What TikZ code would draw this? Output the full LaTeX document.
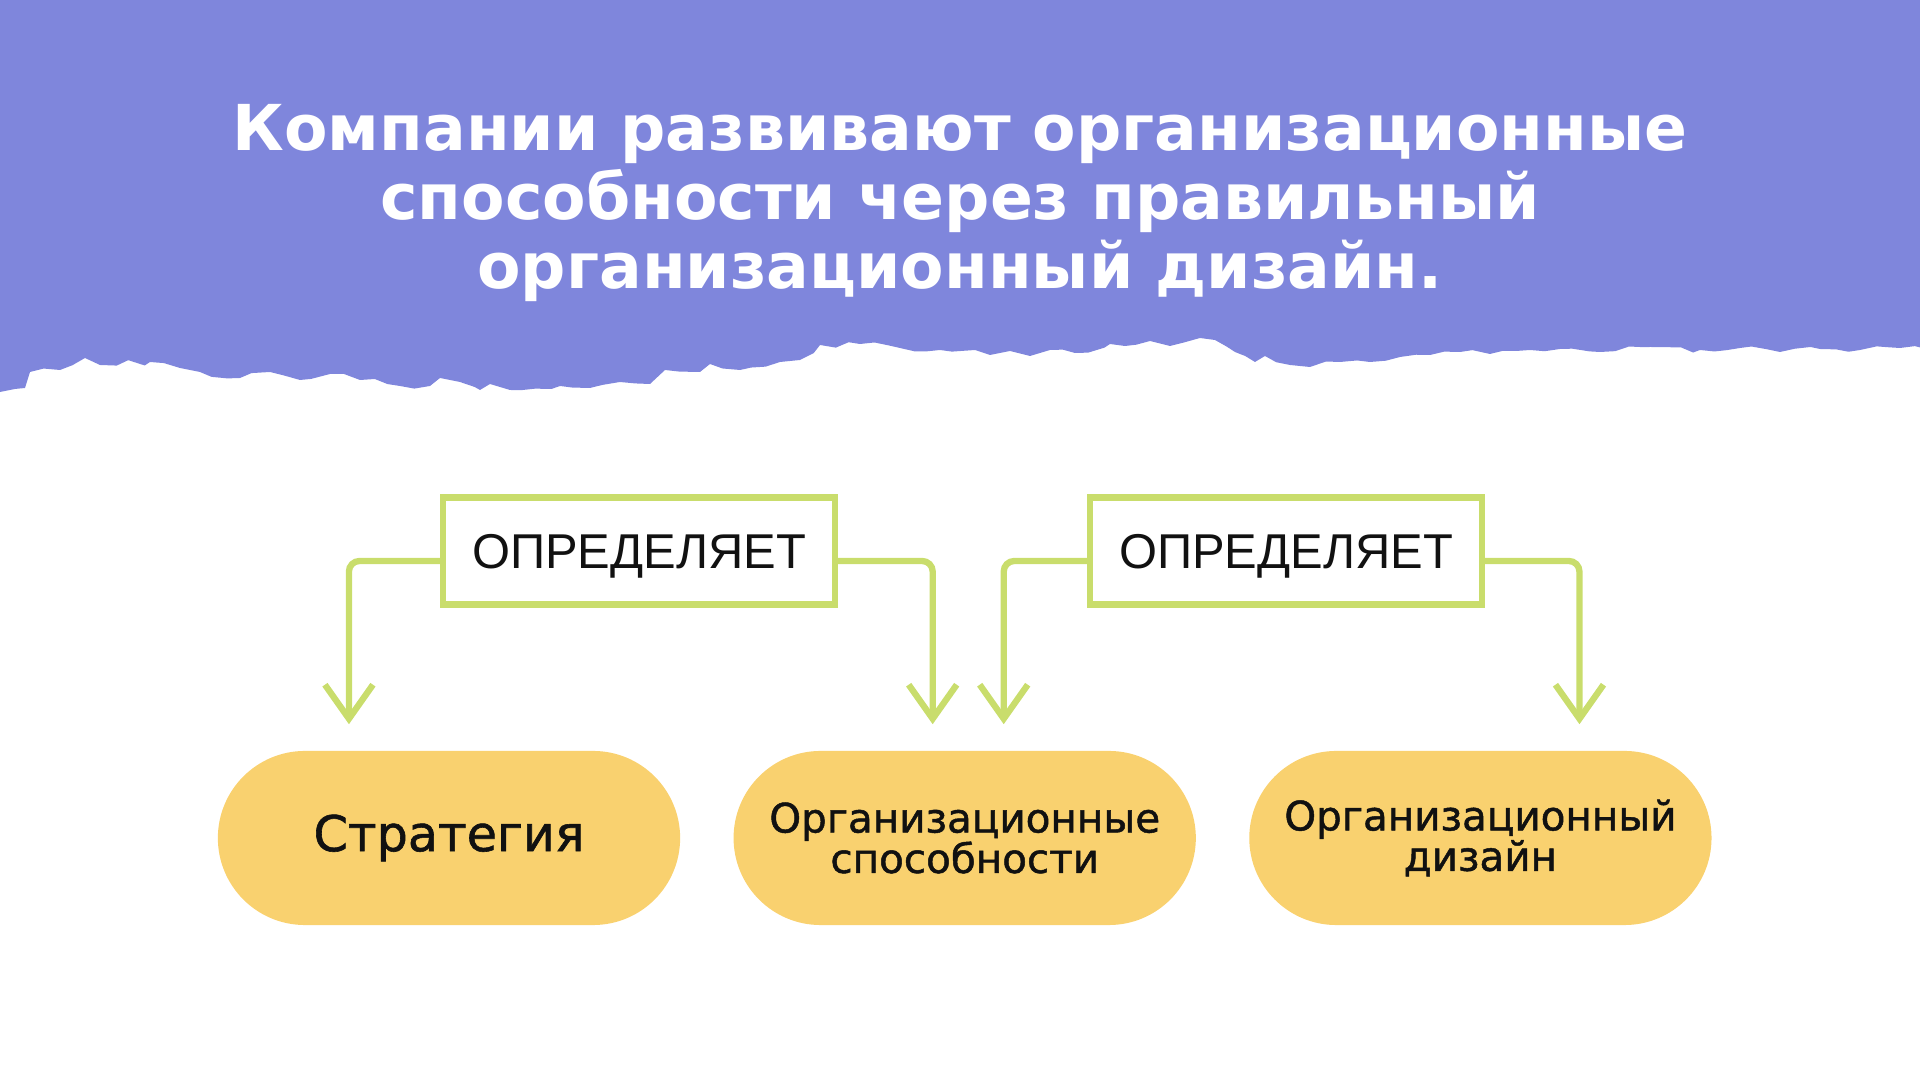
\documentclass[tikz,border=0pt]{standalone}
\usepackage{fontspec}
\setmainfont{Liberation Sans}
\newfontfamily\headfont{DejaVu Sans}
\newfontfamily\pillfont[FakeBold=1.2]{DejaVu Sans}
\usetikzlibrary{arrows.meta,positioning,decorations.pathmorphing}
\definecolor{bandc}{HTML}{7F86DC}
\definecolor{limec}{HTML}{C9DD6C}
\definecolor{pillc}{HTML}{F9D16F}
\definecolor{inkc}{HTML}{111111}
\tikzset{
  ar/.style={-{Straight Barb[length=3.4mm,width=4.8mm]},line width=1.8pt,limec,line cap=round,rounded corners=3pt,shorten >=0.26cm},
  tag/.style={draw=limec,line width=1.8pt,fill=white,minimum width=3.92cm,minimum height=1.07cm,text depth=0pt,font=\fontsize{13.9pt}{15pt}\selectfont,text=inkc},
  pill/.style={fill=pillc,rounded corners=0.87cm,minimum width=4.62cm,minimum height=1.74cm,align=center,font=\pillfont\fontsize{11.5pt}{11.5pt}\selectfont,text=inkc},
  torn/.style={decorate,decoration={random steps,segment length=4pt,amplitude=0.9pt}}
}
\begin{document}
\begin{tikzpicture}[x=0.01cm,y=-0.01cm]
\pgfmathsetseed{7}
\useasboundingbox (0,0) rectangle (1920,1080);
% torn paper band
\fill[bandc,torn] (-20,-20) -- (-20,394) -- (0,392) -- (25,388) -- (30,372) -- (60,370) -- (85,358) -- (100,365)
  -- (150,362) -- (180,368) -- (200,372) -- (240,378) -- (270,372) -- (300,380) -- (330,374)
  -- (360,380) -- (400,386) -- (430,386) -- (440,378) -- (460,382) -- (480,390) -- (490,384)
  -- (510,390) -- (560,386) -- (590,388) -- (620,382) -- (650,384) -- (665,370) -- (700,372)
  -- (710,364) -- (740,370) -- (780,362) -- (800,360) -- (820,345) -- (860,344) -- (900,348)
  -- (940,350) -- (975,350) -- (990,355) -- (1010,351) -- (1030,356) -- (1050,350) -- (1075,353)
  -- (1110,344) -- (1125,346) -- (1150,341) -- (1170,346) -- (1200,338) -- (1215,340) -- (1235,352)
  -- (1255,362) -- (1265,356) -- (1290,365) -- (1310,367) -- (1340,362) -- (1370,362) -- (1400,357)
  -- (1430,355) -- (1460,352) -- (1490,354) -- (1530,350) -- (1560,349) -- (1600,352) -- (1650,347)
  -- (1700,350) -- (1740,348) -- (1780,352) -- (1820,349) -- (1860,350) -- (1900,348) -- (1940,351)
  -- (1940,-20) -- cycle;
\node[font=\headfont\bfseries\fontsize{18pt}{19.5pt}\selectfont,text=white,align=center] (title) at (960,203)
  {Компании развивают организационные\\способности через правильный\\организационный дизайн.};

% pills
\node[pill] (strat) at (449,838) {\fontsize{14pt}{14pt}\selectfont Стратегия};
\node[pill,right=0.52cm of strat] (caps) {Организационные\\способности};
\node[pill,right=0.52cm of caps] (design) {Организационный\\дизайн};

% labels
\node[tag] (def1) at (639,551) {ОПРЕДЕЛЯЕТ};
\node[tag] (def2) at (1286,551) {ОПРЕДЕЛЯЕТ};

\draw[ar] ([yshift=-0.1cm]def1.west) -| ([xshift=-1cm]strat.north);
\draw[ar] ([yshift=-0.1cm]def1.east) -| ([xshift=-0.32cm]caps.north);
\draw[ar] ([yshift=-0.1cm]def2.west) -| ([xshift=0.39cm]caps.north);
\draw[ar] ([yshift=-0.1cm]def2.east) -| ([xshift=0.99cm]design.north);
\end{tikzpicture}
\end{document}
